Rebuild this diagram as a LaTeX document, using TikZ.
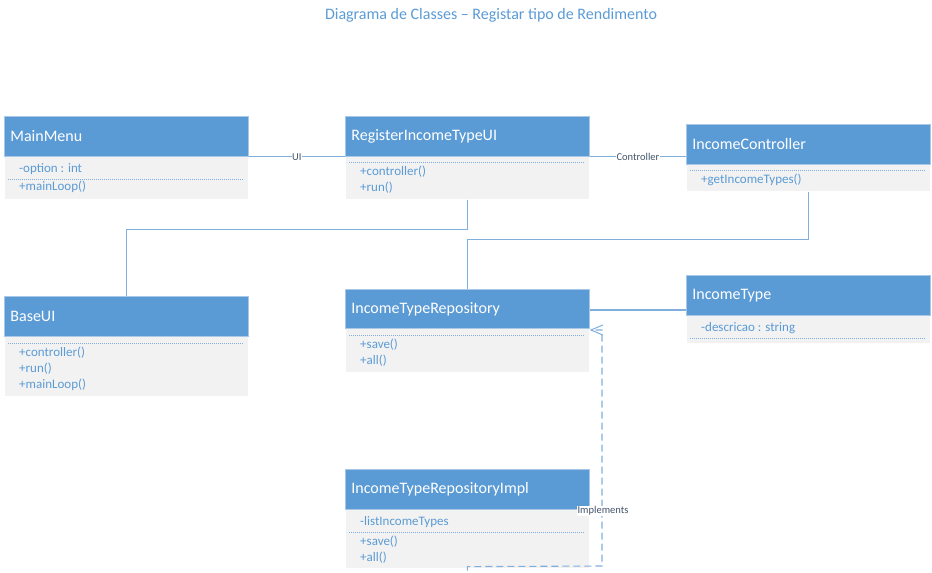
\documentclass[tikz,border=0pt]{standalone}
\usepackage{fontspec}
\setmainfont{Carlito}
\usetikzlibrary{arrows.meta,calc}
\definecolor{hblue}{HTML}{5B9BD5}
\definecolor{hedge}{HTML}{A9C8E8}
\definecolor{bgray}{HTML}{F2F2F2}
\definecolor{mtext}{HTML}{5B9BD5}
\definecolor{sepc}{HTML}{7FAEDF}
\definecolor{cline}{HTML}{80AEDD}
\definecolor{ltext}{HTML}{44546A}
\tikzset{
  hdr/.style={fill=hblue, draw=hedge, line width=0.8pt, anchor=north west, minimum width=244pt, minimum height=40pt, text width=232pt, align=left, inner xsep=6pt, text=white, font=\fontsize{16}{18}\selectfont},
  body/.style={fill=bgray, draw=white, line width=0.6pt, anchor=north west, minimum width=244pt, inner sep=0pt},
  mem/.style={anchor=west, inner sep=0pt, text=mtext, font=\fontsize{13}{15}\selectfont},
  sep/.style={draw=sepc, line width=0.6pt, dash pattern=on 1pt off 1pt},
  conn/.style={draw=cline, line width=1.3pt},
  lbl/.style={fill=white, inner sep=0.5pt, text=ltext, font=\fontsize{10.5}{12}\selectfont},
  impl/.style={draw=cline, line width=1.1pt, dash pattern=on 7pt off 4pt},
}
\begin{document}
\begin{tikzpicture}[x=1pt,y=-1pt]
\useasboundingbox (0,0) rectangle (932,573);
\node[text=hblue, font=\fontsize{16}{18}\selectfont] (title) at (491,15) {Diagrama de Classes – Registar tipo de Rendimento};

% MainMenu
\node[body, minimum height=43pt] (mmb) at (4,156) {};
\node[hdr] (mmh) at (4,116) {MainMenu};
\node[mem] (mm1) at (19,169) {-option : int};
\draw[sep] (8,179) -- (244,179);
\node[mem] (mm2) at (19,187) {+mainLoop()};

% RegisterIncomeTypeUI
\node[body, minimum height=43pt] (riub) at (345,156) {};
\node[hdr] (riuh) at (345,116) {RegisterIncomeTypeUI};
\draw[sep] (349,162) -- (585,162);
\node[mem] (riu1) at (360,172) {+controller()};
\node[mem] (riu2) at (360,188) {+run()};

% IncomeController
\node[body, minimum height=27pt] (icb) at (686,164) {};
\node[hdr] (ich) at (686,124) {IncomeController};
\draw[sep] (690,170) -- (926,170);
\node[mem] (ic1) at (701,180) {+getIncomeTypes()};

% BaseUI
\node[body, minimum height=60pt] (buib) at (4,336) {};
\node[hdr] (buih) at (4,296) {BaseUI};
\draw[sep] (8,343) -- (244,343);
\node[mem] (bui1) at (19,353) {+controller()};
\node[mem] (bui2) at (19,369) {+run()};
\node[mem] (bui3) at (19,385) {+mainLoop()};

% IncomeTypeRepository
\node[body, minimum height=44pt] (itrb) at (345,328) {};
\node[hdr, minimum height=39pt] (itrh) at (345,289) {IncomeTypeRepository};
\draw[sep] (349,335) -- (585,335);
\node[mem] (itr1) at (360,345) {+save()};
\node[mem] (itr2) at (360,361) {+all()};

% IncomeType
\node[body, minimum height=28pt] (itb) at (686,315) {};
\node[hdr] (ith) at (686,275) {IncomeType};
\node[mem] (it1) at (701,328) {-descricao : string};
\draw[sep] (690,338) -- (926,338);

% IncomeTypeRepositoryImpl
\node[body, minimum height=59pt] (itrib) at (345,509) {};
\node[hdr] (itrih) at (345,469) {IncomeTypeRepositoryImpl};
\node[mem] (itri1) at (360,522) {-listIncomeTypes};
\draw[sep] (349,532) -- (585,532);
\node[mem] (itri2) at (360,542) {+save()};
\node[mem] (itri3) at (360,558) {+all()};

% connectors
\draw[conn] (mmh.south east) -- node[lbl] (lui) {UI} (riuh.south west);
\draw[conn] (riuh.south east) -- node[lbl] (lctrl) {Controller} (riuh.south east -| ich.west);
\draw[conn] (riub.south) -- ++(0,30) -| (buih.north);
\draw[conn] (icb.south) -- ++(0,48) -| (itrh.north);
\draw[conn] ([yshift=-1pt]itrh.east) -- ([yshift=-1pt]itrh.east -| ith.west);

\coordinate (icorner) at (602,566);
\draw[impl, -{Straight Barb[length=12pt,width=10pt,line width=1pt]}] ([yshift=-2pt]itrib.south) -- ([yshift=2pt]itrib.south) -- (icorner) |- ([yshift=-2pt]itrb.north east);
\node[lbl] (limpl) at (603,511) {Implements};
\end{tikzpicture}
\end{document}
